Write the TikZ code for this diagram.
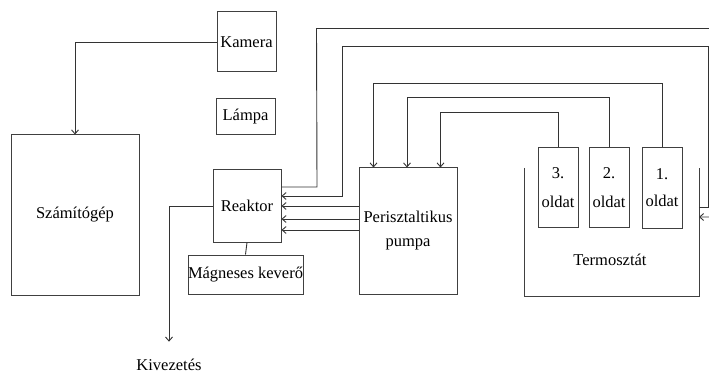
\documentclass[tikz,border=0pt]{standalone}
\usepackage{fontspec}
\setmainfont{Liberation Serif}
\usetikzlibrary{arrows, arrows.meta, positioning, calc}

\begin{document}
\begin{tikzpicture}[x=1pt, y=-1pt, font=\fontsize{16.5}{19}\selectfont, >={Straight Barb[length=4pt, width=7pt]},
    box/.style={draw=black!75, line width=1pt, inner sep=0pt, align=center},
    conn/.style={draw=black!80, line width=0.9pt}]
    \useasboundingbox (0,0) rectangle (709,374);
    % Kamera, Lampa
    \node[box, minimum width=59pt, minimum height=60pt] (kamera) at (246.5,42) {Kamera};
    \node[box, minimum width=59pt, minimum height=36pt] (lampa) at (245.5,117) {Lámpa};
    % Szamitogep
    \node[box, minimum width=128pt, minimum height=160pt] (szamitogep) at (75,215) {Számítógép};
    % Reaktor + kevero
    \node[box, minimum width=68pt, minimum height=72pt] (reaktor) at (247,206) {Reaktor};
    \node[box, minimum width=115pt, minimum height=39pt] (kevero) at (245.5,274.5) {Mágneses keverő};
    % Pumpa
    \node[box, minimum width=98pt, minimum height=126pt] (pumpa) at (408,231) {Perisztaltikus\\[5pt] pumpa};
    % Oldatok
    \node[box, minimum width=40pt, minimum height=79pt] (oldat3) at (558,187.5) {3.\\[10pt] oldat};
    \node[box, minimum width=40pt, minimum height=79pt] (oldat2) at (609,187.5) {2.\\[10pt] oldat};
    \node[box, minimum width=40pt, minimum height=80pt] (oldat1) at (662,188) {1.\\[8pt] oldat};
    % Termosztat (nyitott doboz)
    \coordinate (tTL) at (524,168);
    \coordinate (tBL) at (524,296);
    \coordinate (tBR) at (699,296);
    \coordinate (tTR) at (699,168);
    \coordinate (tin) at (699,217);
    \coordinate (tout) at (699,207);
    \draw[draw=black!75, line width=1pt] (tTL) -- (tBL) -- (tBR) -- (tTR);
    \node (termosztat) at (610,260) {Termosztát};
    % Kivezetes
    \node (kivezetes) at (169,365) {Kivezetés};

    \draw[conn, ->] (kamera.west) -| (szamitogep.north);
    \draw[conn] (reaktor.south) -- (kevero.north);
    \draw[conn, ->, shorten >=14pt] (reaktor.west) -| (kivezetes.north);
    % pumpa -> reaktor
    \draw[conn, ->] (pumpa.west |- reaktor.east) -- (reaktor.east);
    \draw[conn, ->] ([yshift=-13pt]pumpa.west |- reaktor.east) -- ([yshift=-13pt]reaktor.east);
    \draw[conn, ->] ([yshift=-24pt]pumpa.west |- reaktor.east) -- ([yshift=-24pt]reaktor.east);
    % oldatok -> pumpa
    \draw[conn, ->] (oldat1.north) -- ++(0,-64) -| ([xshift=15pt]pumpa.north west);
    \draw[conn, ->] (oldat2.north) -- ++(0,-50) -| ([xshift=-1pt]pumpa.north);
    \draw[conn, ->] (oldat3.north) -- ++(0,-35) -| ([xshift=-17pt]pumpa.north east);
    % vizkor
    \draw[conn, ->] ([yshift=19pt]reaktor.east) -- ++(35.5,0) -- (316.5,28.5) -- (714,28.5) -- (714,217) -- (tin);
    \draw[conn, ->] (tout) -- (708,207) -- (708,46) -- (342,46) -- (342,196) -- ([yshift=10pt]reaktor.east);
\end{tikzpicture}
\end{document}
